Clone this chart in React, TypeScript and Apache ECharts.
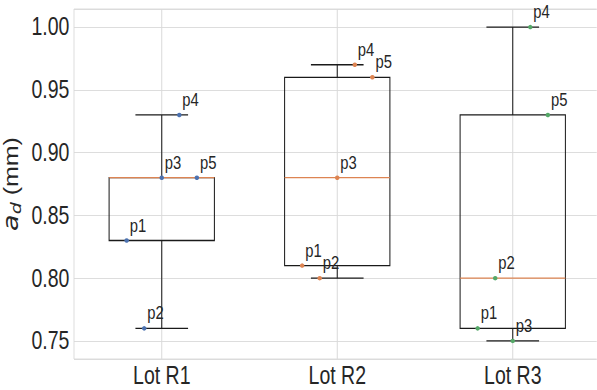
import React, { useEffect, useRef } from "react";
import * as echarts from "echarts";

const lots = ["Lot R1", "Lot R2", "Lot R3"];
const pointNames = ["p1", "p2", "p3", "p4", "p5"];
const pointOffsets = [-0.2, -0.1, 0, 0.1, 0.2];
const lotR1 = [0.83, 0.76, 0.88, 0.93, 0.88];
const lotR2 = [0.81, 0.8, 0.88, 0.97, 0.96];
const lotR3 = [0.76, 0.8, 0.75, 1.0, 0.93];
const lotValues = [lotR1, lotR2, lotR3];
const lotColors = ["#4c72b0", "#dd8452", "#55a868"];
const medianColor = "#dd8452";
const yMin = 0.7356;
const yMax = 1.0144;

// the reference figure is horizontally condensed; we draw wider and squeeze
const SQUEEZE = 0.78;
const W = 597 / SQUEEZE;
const H = 390;

const FONT = "'Liberation Sans', Arial, sans-serif";
const MATH = "'DejaVu Sans', sans-serif";
const TEXT = "#262626";
const GRID = "#d9d9d9";
const LINE = "#1a1a1a";

function quantile(sorted: number[], q: number) {
  const pos = (sorted.length - 1) * q;
  const lo = Math.floor(pos);
  const hi = Math.ceil(pos);
  return sorted[lo] + (sorted[hi] - sorted[lo]) * (pos - lo);
}

function boxStats(vals: number[]) {
  const s = [...vals].sort((a, b) => a - b);
  const q1 = quantile(s, 0.25);
  const med = quantile(s, 0.5);
  const q3 = quantile(s, 0.75);
  const iqr = q3 - q1;
  const lo = Math.min(...s.filter((v) => v >= q1 - 1.5 * iqr - 1e-9));
  const hi = Math.max(...s.filter((v) => v <= q3 + 1.5 * iqr + 1e-9));
  return [lo, q1, med, q3, hi];
}

export default function App() {
  const ref = useRef<HTMLDivElement>(null);
  useEffect(() => {
    if (!ref.current) return;
    const chart = echarts.init(ref.current, null, { renderer: "svg" });
    const boxData = lotValues.map((vals, i) => [i + 1, ...boxStats(vals)]);

    const scatterSeries = lotValues.map((vals, i) => ({
      type: "scatter",
      xAxisIndex: 1,
      yAxisIndex: 0,
      symbol: "circle",
      symbolSize: [4.5 / SQUEEZE, 4.5],
      z: 5,
      itemStyle: { color: lotColors[i], opacity: 1 },
      label: {
        show: true,
        formatter: "{b}",
        position: [6.8, -3.3],
        align: "left",
        verticalAlign: "bottom",
        fontSize: 19,
        lineHeight: 19,
        fontFamily: FONT,
        color: TEXT,
      },
      data: vals.map((v, j) => ({ name: pointNames[j], value: [i + 1 + pointOffsets[j], v] })),
    }));

    const option: any = {
      animation: false,
      grid: {
        left: 74 / SQUEEZE,
        top: 9,
        width: 526.5 / SQUEEZE,
        height: 350,
        show: true,
        borderColor: GRID,
        borderWidth: 1,
        backgroundColor: "#ffffff",
        containLabel: false,
        outerBoundsMode: "none",
      },
      xAxis: [
        {
          type: "category",
          data: lots,
          boundaryGap: true,
          axisLine: { show: false },
          axisTick: { show: false },
          splitLine: { show: false },
          axisLabel: { fontSize: 25, fontFamily: FONT, color: TEXT, margin: 4 },
        },
        {
          type: "value",
          min: 0.5,
          max: 3.5,
          show: false,
          splitLine: { show: false },
        },
      ],
      yAxis: {
        type: "value",
        min: yMin,
        max: yMax,
        splitNumber: 5,
        axisLine: { show: false },
        axisTick: { show: false },
        splitLine: { show: true, lineStyle: { color: GRID, width: 1 } },
        axisLabel: {
          fontSize: 25,
          fontFamily: FONT,
          color: TEXT,
          margin: 6,
          showMinLabel: false,
          showMaxLabel: false,
          formatter: (v: number) =>
            Math.abs(v * 20 - Math.round(v * 20)) < 1e-6 ? v.toFixed(2) : "",
        },
        name: "{a|a}{d|d}{n| (mm)}",
        nameLocation: "middle",
        nameGap: 46,
        nameRotate: 90,
        nameTextStyle: {
          fontFamily: FONT,
          color: TEXT,
          fontSize: 25,
          rich: {
            a: { fontSize: 27, fontStyle: "italic", fontFamily: MATH, color: TEXT, lineHeight: 30 },
            d: {
              fontSize: 19,
              fontStyle: "italic",
              fontFamily: MATH,
              color: TEXT,
              lineHeight: 19,
              verticalAlign: "bottom",
            },
            n: { fontSize: 25, fontFamily: FONT, color: TEXT, lineHeight: 30 },
          },
        },
      },
      series: [
        {
          type: "custom",
          xAxisIndex: 1,
          yAxisIndex: 0,
          z: 1,
          silent: true,
          data: lots.map((_, i) => [i + 1]),
          encode: { x: 0 },
          renderItem: (params: any, api: any) => {
            const x = api.value(0);
            const cs = params.coordSys;
            const px = api.coord([x, yMax])[0];
            return {
              type: "line",
              shape: { x1: px, y1: cs.y, x2: px, y2: cs.y + cs.height },
              style: { stroke: GRID, lineWidth: 1 / SQUEEZE },
            };
          },
        },
        {
          type: "custom",
          xAxisIndex: 1,
          yAxisIndex: 0,
          z: 3,
          silent: true,
          data: boxData,
          encode: { x: 0, y: [1, 2, 3, 4, 5] },
          renderItem: (params: any, api: any) => {
            const x = api.value(0);
            const lo = api.value(1);
            const q1 = api.value(2);
            const med = api.value(3);
            const q3 = api.value(4);
            const hi = api.value(5);
            const c = api.coord([x, med])[0];
            const bl = api.coord([x - 0.3, q3]);
            const br = api.coord([x + 0.3, q1]);
            const capL = api.coord([x - 0.15, lo])[0];
            const capR = api.coord([x + 0.15, lo])[0];
            const yLo = api.coord([x, lo])[1];
            const yHi = api.coord([x, hi])[1];
            const yMed = api.coord([x, med])[1];
            const st = { stroke: LINE, lineWidth: 1.3, fill: "none" };
            return {
              type: "group",
              children: [
                { type: "line", shape: { x1: c, y1: br[1], x2: c, y2: yLo }, style: st },
                { type: "line", shape: { x1: c, y1: bl[1], x2: c, y2: yHi }, style: st },
                { type: "line", shape: { x1: capL, y1: yLo, x2: capR, y2: yLo }, style: st },
                { type: "line", shape: { x1: capL, y1: yHi, x2: capR, y2: yHi }, style: st },
                {
                  type: "rect",
                  shape: { x: bl[0], y: bl[1], width: br[0] - bl[0], height: br[1] - bl[1] },
                  style: st,
                },
                {
                  type: "line",
                  shape: { x1: bl[0], y1: yMed, x2: br[0], y2: yMed },
                  style: { stroke: medianColor, lineWidth: 1.3 },
                },
              ],
            };
          },
        },
        ...scatterSeries,
      ],
    };
    chart.setOption(option);
    return () => chart.dispose();
  }, []);
  return (
    <div style={{ position: "fixed", left: 0, top: 0, width: 597, height: H, overflow: "hidden", background: "#fff" }}>
      <div
        ref={ref}
        style={{
          width: W,
          height: H,
          transform: `scaleX(${SQUEEZE})`,
          transformOrigin: "0 0",
        }}
      />
    </div>
  );
}
